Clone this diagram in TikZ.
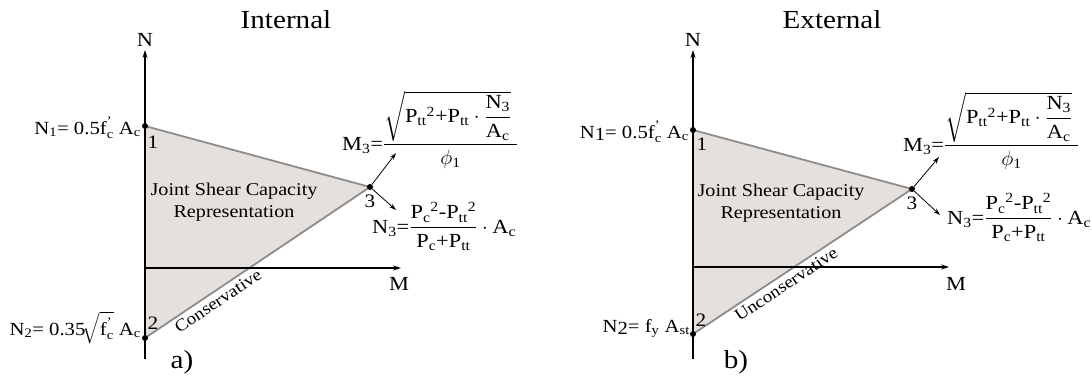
\documentclass[tikz,border=0pt]{standalone}
\usepackage{amsmath}
\usepackage{fontspec}
\setmainfont[FakeStretch=1.12]{Liberation Serif}
\usetikzlibrary{arrows.meta}
\definecolor{trifill}{RGB}{230,224,220}
\definecolor{edgegray}{RGB}{140,140,140}
\newcommand{\tx}[1]{\text{#1}}
\tikzset{
  tri/.style={fill=trifill, draw=edgegray, line width=1.8pt, line join=round},
  axisline/.style={draw=black, line width=1.1pt, -{Stealth[length=8pt,width=5pt]}},
  thinarrow/.style={draw=black, line width=0.8pt, -{Stealth[length=7pt,width=4.5pt]}},
  dotnode/.style={circle, fill=black, inner sep=0pt, minimum size=6pt},
  numlbl/.style={font=\fontsize{19}{20}\selectfont, inner sep=0pt},
  axlbl/.style={font=\fontsize{20}{22}\selectfont, inner sep=0pt},
  title/.style={font=\fontsize{26}{28}\selectfont, inner sep=0pt},
  formula/.style={font=\fontsize{20}{22}\selectfont, inner sep=0pt},
  nlabel/.style={font=\fontsize{18.5}{22}\selectfont, inner sep=0pt},
  body/.style={font=\fontsize{18}{22}\selectfont, inner sep=0pt, align=center},
  slopelbl/.style={font=\fontsize{17}{20}\selectfont, inner sep=4pt},
}
\begin{document}
\begin{tikzpicture}[x=1pt,y=-1pt]
\useasboundingbox (0,0) rectangle (1092,383);
% ---------------- left panel ----------------
\coordinate (L1) at (145,126);
\coordinate (L2) at (145,338);
\coordinate (L3) at (370,187);
\coordinate (LNb) at (145,359);
\coordinate (LNt) at (145,50);
\coordinate (LMs) at (145,268);
\coordinate (LMe) at (401,268);
\coordinate (LMa) at (396,153);
\coordinate (LNa) at (396,210);
\path[tri] (L1) -- (L3) -- (L2) -- cycle;
\draw[axisline] (LNb) -- (LNt);
\draw[axisline] (LMs) -- (LMe);
\node[dotnode] (l1) at (L1) {};
\node[dotnode] (l2) at (L2) {};
\node[dotnode] (l3) at (L3) {};
\draw[thinarrow] (l3) -- (LMa);
\draw[thinarrow] (l3) -- (LNa);
\node[title] (tI) at (286,20) {Internal};
\node[axlbl] (lN) at (145,40) {N};
\node[axlbl] (lM) at (399,284) {M};
\node[numlbl] (l1t) at (153,142) {1};
\node[numlbl] (l2t) at (153,323) {2};
\node[numlbl] (l3t) at (370,201) {3};
\node[body] (ljs) at (234,202) {Joint Shear Capacity\\Representation};
\path (L2) -- (L3) node[slopelbl, pos=0.30, sloped, below] (lcons) {Conservative};
\node[nlabel, anchor=base east] (lN1) at (141,134)
  {$\tx{N}_{\tx{1}}\tx{= 0.5f}^{\tx{'}}_{\tx{c}}\tx{ A}_{\tx{c}}$};
\node[nlabel, anchor=base east] (lN2) at (141,335)
  {$\tx{N}_{\tx{2}}\tx{= 0.35}\!\sqrt{\tx{f}^{\tx{'}}_{\tx{c}}}\tx{ A}_{\tx{c}}$};
\node[formula, anchor=base west] (lM3) at (342,150)
  {$\tx{M}_{\tx{3}}\tx{=}\dfrac{\sqrt{\tx{P}_{\tx{tt}}{}^{\tx{2}}\tx{+P}_{\tx{tt}}\cdot\dfrac{\tx{N}_{\tx{3}}}{\tx{A}_{\tx{c}}}}\;}{\phi_{\tx{1}}}$};
\node[formula, anchor=base west] (lN3) at (372,233)
  {$\tx{N}_{\tx{3}}\tx{=}\dfrac{\tx{P}_{\tx{c}}{}^{\tx{2}}\tx{-P}_{\tx{tt}}{}^{\tx{2}}}{\tx{P}_{\tx{c}}\tx{+P}_{\tx{tt}}}\cdot\tx{A}_{\tx{c}}$};
\node[title] (la) at (182,362) {a)};
% ---------------- right panel ----------------
\coordinate (R1) at (693,130);
\coordinate (R2) at (693,334);
\coordinate (R3) at (912,189);
\coordinate (RNb) at (693,359);
\coordinate (RNt) at (693,50);
\coordinate (RMs) at (693,267);
\coordinate (RMe) at (949,267);
\coordinate (RMa) at (939,157);
\coordinate (RNa) at (940,215);
\path[tri] (R1) -- (R3) -- (R2) -- cycle;
\draw[axisline] (RNb) -- (RNt);
\draw[axisline] (RMs) -- (RMe);
\node[dotnode] (r1) at (R1) {};
\node[dotnode] (r2) at (R2) {};
\node[dotnode] (r3) at (R3) {};
\draw[thinarrow] (r3) -- (RMa);
\draw[thinarrow] (r3) -- (RNa);
\node[title] (tE) at (832,20) {External};
\node[axlbl] (rN) at (693,40) {N};
\node[axlbl] (rM) at (956,284) {M};
\node[numlbl] (r1t) at (702,144) {1};
\node[numlbl] (r2t) at (701,320) {2};
\node[numlbl] (r3t) at (912,203) {3};
\node[body] (rjs) at (781,203) {Joint Shear Capacity\\Representation};
\path (R2) -- (R3) node[slopelbl, pos=0.40, sloped, below] (runcons) {Unconservative};
\node[nlabel, anchor=base east] (rN1) at (689,138)
  {$\tx{N}\raisebox{-0.12em}{\tx{1}}\tx{= 0.5f}^{\tx{'}}_{\tx{c}}\tx{ A}_{\tx{c}}$};
\node[nlabel, anchor=base east] (rN2) at (690,332)
  {$\tx{N}\raisebox{-0.12em}{\tx{2}}\tx{= f}_{\tx{y}}\tx{ A}_{\tx{st}}$};
\node[formula, anchor=base west] (rM3) at (903,151)
  {$\tx{M}_{\tx{3}}\tx{=}\dfrac{\sqrt{\tx{P}_{\tx{tt}}{}^{\tx{2}}\tx{+P}_{\tx{tt}}\cdot\dfrac{\tx{N}_{\tx{3}}}{\tx{A}_{\tx{c}}}}\;}{\phi_{\tx{1}}}$};
\node[formula, anchor=base west] (rN3) at (947,224)
  {$\tx{N}_{\tx{3}}\tx{=}\dfrac{\tx{P}_{\tx{c}}{}^{\tx{2}}\tx{-P}_{\tx{tt}}{}^{\tx{2}}}{\tx{P}_{\tx{c}}\tx{+P}_{\tx{tt}}}\cdot\tx{A}_{\tx{c}}$};
\node[title] (rb) at (736,362) {b)};
\end{tikzpicture}
\end{document}
